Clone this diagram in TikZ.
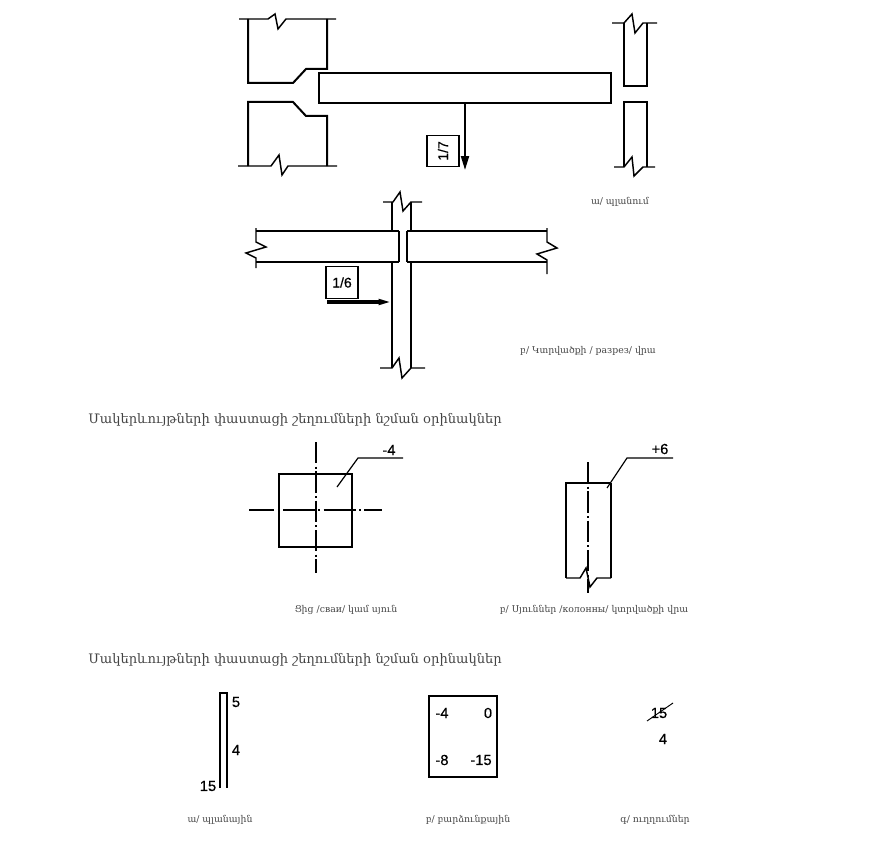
\documentclass[tikz,border=0pt]{standalone}
\usepackage{fontspec}
\setmainfont{Liberation Sans}
\newfontfamily\armfont{DejaVu Serif}
\newfontfamily\numfont[FakeBold=0.4]{Liberation Sans}
\usetikzlibrary{arrows.meta}
\definecolor{captext}{HTML}{444444}
\tikzset{
  wall/.style={line width=1.5pt,line join=miter},
  thin wall/.style={line width=0.95pt},
  brk/.style={line width=1.1pt,line join=miter},
  axish/.style={line width=0.8pt,dash pattern=on 24pt off 2.5pt on 1.5pt off 2.5pt,dash phase=5pt},
  axisv/.style={line width=0.8pt,dash pattern=on 16pt off 2.5pt on 1.5pt off 2pt},
  leader/.style={line width=0.9pt},
  markbox/.style={draw,line width=1pt,minimum width=24pt,minimum height=24pt,inner sep=0pt,font=\numfont\fontsize{10.5}{12}\selectfont},
  numtxt/.style={inner sep=0pt,font=\numfont\fontsize{11}{13}\selectfont},
  captxt/.style={inner sep=0pt,text=captext,font=\armfont\fontsize{7}{9}\selectfont},
  headtxt/.style={anchor=west,inner sep=0pt,text=captext,font=\armfont\fontsize{9.8}{12}\selectfont}
}
\begin{document}
\begin{tikzpicture}[x=0.75pt,y=-0.75pt]
\useasboundingbox (0,0) rectangle (875,842);
% plan: upper-left block
\draw[wall] (248,19)--(248,83)--(293,83)--(306,69)--(327,69)--(327,19);
\draw[brk] (239,19)--(268,19)--(275,14)--(278,29)--(286,19)--(336,19);
% plan: lower-left block
\draw[wall] (248,166)--(248,102)--(293,102)--(306,116)--(327,116)--(327,166);
\draw[brk] (238,166)--(271,166)--(279,155)--(282,175)--(288,166)--(337,166);
% plan: beam
\node[draw,line width=1.5pt,minimum width=219pt,minimum height=22.5pt,inner sep=0pt] (beam) at (465,88) {};
\coordinate (tipA) at (465,170);
\draw[line width=1.5pt,-{Stealth[length=10.5pt,width=6pt,inset=0pt]}] (beam.south) -- (tipA);
\node[markbox,minimum width=23pt,minimum height=24pt,rotate=90] (m17) at (443,151) {1/7};
% plan: right wall
\draw[wall] (624,23)--(624,86)--(647,86)--(647,23);
\draw[brk] (612,23)--(624,23)--(632,14)--(635,33)--(643,23)--(657,23);
\draw[wall] (624,167)--(624,102)--(647,102)--(647,167);
\draw[brk] (614,167)--(624,167)--(632,157)--(634,176)--(643,167)--(655,167);
\node[captxt] (c1) at (620,202) {ա/ պլանում};
% section: column
\draw[thin wall] (392,202)--(392,231) (411,202)--(411,231);
\draw[thin wall] (392,262)--(392,368) (411,262)--(411,368);
\draw[brk] (383,202)--(393,202)--(400,192)--(403,211)--(411,202)--(422,202);
\draw[brk] (380,368)--(392,368)--(399,358)--(402,378)--(411,368)--(425,368);
% section: beams
\draw[line width=1.1pt] (256,231)--(399,231) (256,262)--(399,262);
\draw[wall] (399,231)--(399,262);
\draw[line width=1.1pt] (547,231)--(407,231) (547,262)--(407,262);
\draw[wall] (407,231)--(407,262);
\draw[brk] (256,228)--(256,242)--(266,247)--(246,253)--(256,258)--(256,268);
\draw[brk] (547,228)--(547,242)--(557,248)--(537,254)--(547,260)--(547,274);
\node[markbox] (m16) at (342,282.5) {1/6};
\coordinate (tailB) at (327,302);
\coordinate (tipB) at (392,302);
\draw[line width=2.3pt,-{Stealth[length=10pt,width=4pt,inset=0pt]}] (tailB) -- (tipB);
\node[captxt] (c2) at (588,351) {բ/ Կտրվածքի / разрез/ վրա};
% heading 1
\node[headtxt] (h1) at (88,420) {Մակերևույթների փաստացի շեղումների նշման օրինակներ};
% square pile
\node[draw,line width=1.5pt,minimum width=54.75pt,minimum height=54.75pt,inner sep=0pt] (pile) at (315.5,510.5) {};
\coordinate (axL) at (249,510);
\coordinate (axR) at (382,510);
\coordinate (axT) at (316,442);
\coordinate (axB) at (316,573);
\draw[axish] (axL)--(axR);
\draw[axisv] (axT)--(axB);
\coordinate (ld1) at (337,487);
\coordinate (ld2) at (358,458);
\coordinate (ld3) at (403,458);
\draw[leader] (ld1)--(ld2)--(ld3);
\node[numtxt] (n1) at (389,450) {-4};
\node[captxt] (c3) at (346,610) {Ցից /сваи/ կամ սյուն};
% column on section
\draw[wall] (566,578)--(566,483)--(611,483);
\draw[thin wall] (611,483)--(611,578);
\draw[brk] (566,578)--(580,578)--(586,568)--(590,587)--(597,578)--(611,578);
\coordinate (axT2) at (588,462);
\coordinate (axB2) at (588,593);
\draw[axisv] (axT2)--(axB2);
\coordinate (le1) at (607,488);
\coordinate (le2) at (627,458);
\coordinate (le3) at (673,458);
\draw[leader] (le1)--(le2)--(le3);
\node[numtxt] (n2) at (660,449) {+6};
\node[captxt] (c4) at (594,610) {բ/ Սյուններ /колонны/ կտրվածքի  վրա};
% heading 2
\node[headtxt] (h2) at (88,660) {Մակերևույթների փաստացի շեղումների նշման օրինակներ};
% wall mark
\draw[line width=1.4pt] (220,788)--(220,693)--(227,693)--(227,788);
\node[numtxt] (n3) at (236,702) {5};
\node[numtxt] (n4) at (236,750) {4};
\node[numtxt] (n5) at (208,786) {15};
\node[captxt] (c5) at (220,820) {ա/  պլանային};
% height box
\node[draw,line width=1.5pt,minimum width=51pt,minimum height=60.75pt,inner sep=0pt] (hbox) at (463,736.5) {};
\node[numtxt] (n6) at (442,713) {-4};
\node[numtxt] (n7) at (488,713) {0};
\node[numtxt] (n8) at (442,760) {-8};
\node[numtxt] (n9) at (481,760) {-15};
\node[captxt] (c6) at (468,820) {բ/ բարձունքային};
% corrections
\node[numtxt] (n10) at (659,713) {15};
\coordinate (sl1) at (647,721);
\coordinate (sl2) at (673,703);
\draw[line width=0.7pt] (sl1)--(sl2);
\node[numtxt] (n11) at (663,739) {4};
\node[captxt] (c7) at (655,820) {գ/ ուղղումներ};
\end{tikzpicture}
\end{document}
